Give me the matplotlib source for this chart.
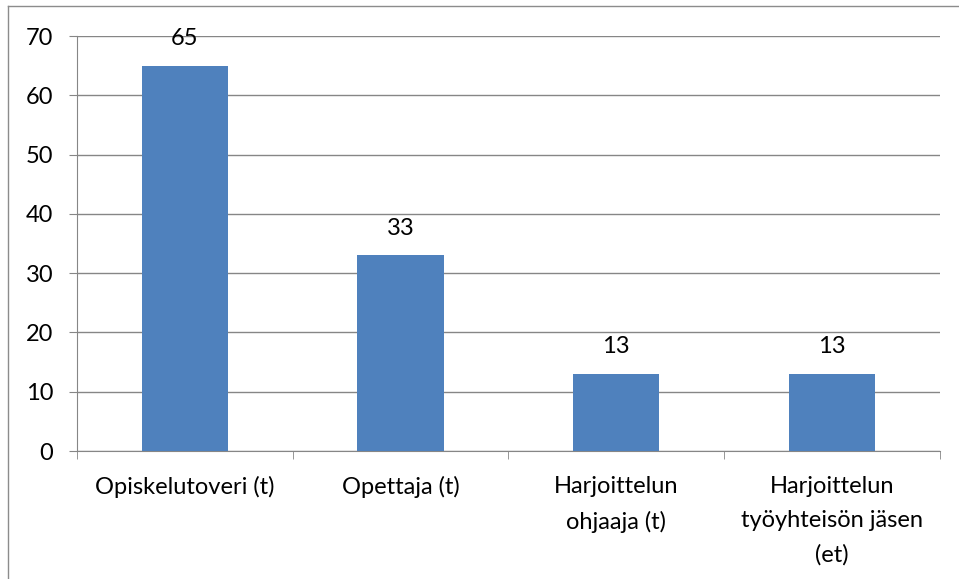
import matplotlib.pyplot as plt
import numpy as np
from matplotlib.lines import Line2D

categories = ['Opiskelutoveri (t)', 'Opettaja (t)', 'Harjoittelun\nohjaaja (t)',
              'Harjoittelun\ntyöyhteisön jäsen\n(et)']
values = [65, 33, 13, 13]
yticks = [0, 10, 20, 30, 40, 50, 60, 70]

plt.rcParams['font.family'] = ['Lato', 'DejaVu Sans']
grid_col = '#868686'
fs = 17

fig = plt.figure(figsize=(9.59, 5.79), dpi=100)
ax = fig.add_axes([0.0803, 0.221, 0.8997, 0.7167])

x = np.arange(len(categories))
bars = ax.bar(x, values, width=0.4, color='#4F81BD', zorder=3)
for xi, v in zip(x, values):
    ax.text(xi, v + 2.8, str(v), ha='center', va='bottom', fontsize=fs)

ax.set_xlim(-0.5, len(categories) - 0.5)
ax.set_ylim(0, 70)
ax.set_yticks(yticks)
ax.tick_params(axis='y', labelsize=fs, length=6, color=grid_col, pad=11)
ax.grid(axis='y', color=grid_col, linewidth=1, zorder=0)

# category labels centered, tick marks between categories
ax.set_xticks(x)
ax.set_xticklabels(categories, fontsize=fs, linespacing=1.75)
ax.tick_params(axis='x', length=0, pad=18)
ax.set_xticks(np.arange(len(categories) + 1) - 0.5, minor=True)
ax.tick_params(axis='x', which='minor', length=6, color=grid_col)

for s in ['top', 'right']:
    ax.spines[s].set_visible(False)
for s in ['left', 'bottom']:
    ax.spines[s].set_color(grid_col)

# outer chart border (only left and top visible)
fig.add_artist(Line2D([8 / 959, 8 / 959], [0, 1 - 6 / 579], color='#8c8c8c', lw=1))
fig.add_artist(Line2D([8 / 959, 1], [1 - 6 / 579, 1 - 6 / 579], color='#8c8c8c', lw=1))

fig.savefig('out.png', dpi=100)
